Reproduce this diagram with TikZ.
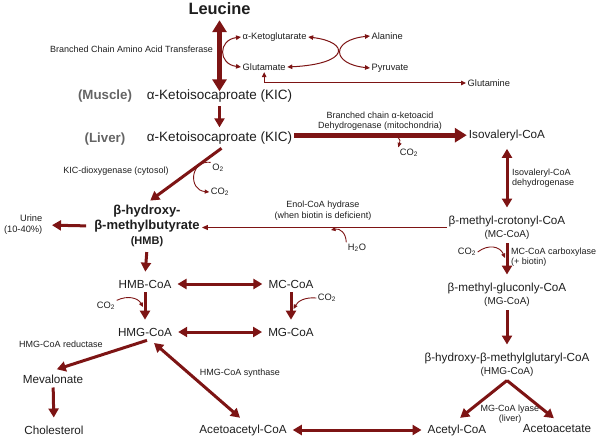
\documentclass[tikz,border=0pt]{standalone}
\usepackage{fontspec}
\setmainfont{Liberation Sans}
\usetikzlibrary{positioning,arrows.meta,calc}
\definecolor{pathred}{RGB}{125,20,20}
\definecolor{inkgray}{RGB}{30,30,30}
\definecolor{sitegray}{RGB}{100,100,100}
\newcommand{\minorline}[1]{{\fontsize{10}{12}\selectfont #1}}
\newcommand{\cotwo}{CO\textsubscript{2}}
\tikzset{
	metab/.style={text=inkgray,font=\fontsize{11.7}{13}\selectfont,inner xsep=2pt,inner ysep=4pt,align=center},
	kic/.style={metab,font=\fontsize{13.5}{15}\selectfont,inner ysep=3.5pt},
	lead/.style={metab,font=\bfseries\fontsize{16.4}{18}\selectfont,inner ysep=2pt},
	hmbnode/.style={metab,font=\bfseries\fontsize{13}{15}\selectfont,inner ysep=2pt},
	site/.style={text=sitegray,font=\bfseries\fontsize{13.3}{15}\selectfont},
	minortext/.style={text=inkgray,font=\fontsize{9.3}{11}\selectfont,inner sep=1.5pt},
	enzyme/.style={text=inkgray,font=\fontsize{9}{10.5}\selectfont,inner sep=1pt,align=center},
	conv/.style={draw=pathred,line width=3pt,-{Triangle[length=9pt,width=10pt]},shorten >=4pt},
	conv both/.style={draw=pathred,line width=3pt,{Triangle[length=9pt,width=10pt]}-{Triangle[length=9pt,width=10pt]},shorten >=4pt,shorten <=4pt},
	major conv/.style={draw=pathred,line width=5pt,-{Triangle[length=12pt,width=14pt]}},
	major both/.style={draw=pathred,line width=5pt,{Triangle[length=12pt,width=14pt]}-{Triangle[length=12pt,width=14pt]}},
	side conv/.style={draw=pathred,line width=1.1pt,-{Triangle[length=6pt,width=5pt]}},
	side both/.style={draw=pathred,line width=1pt,{Triangle[length=5pt,width=4.5pt]}-{Triangle[length=5pt,width=4.5pt]}},
	cofactor/.style={draw=pathred,line width=0.9pt,-{Triangle[length=4.5pt,width=4pt]}}
}

\begin{document}
\begin{tikzpicture}[x=1pt,y=-1pt]
	\useasboundingbox (0,0) rectangle (600,436);
	
	% leucine and transamination
	\node[lead] (leu) at (219.5,9) {Leucine};
	\node[kic] (kicm) at (219.5,96.3) {α-Ketoisocaproate (KIC)};
	\node[site] (musc) at (105,96) {(Muscle)};
	\node[enzyme, anchor=east] (bcat) at (214,49) {Branched Chain Amino Acid Transferase};
	\node[minortext, anchor=west] (akg) at (241,37) {α-Ketoglutarate};
	\node[minortext, anchor=west] (glu) at (241,67) {Glutamate};
	\node[minortext, anchor=west] (ala) at (370,36) {Alanine};
	\node[minortext, anchor=west] (pyr) at (370,68) {Pyruvate};
	\node[minortext, anchor=west] (glm) at (466,83) {Glutamine};
	
	\draw[major both, shorten <=3pt, shorten >=-5pt] (leu) -- (kicm);
	\draw[side both] (akg.west) .. controls (218,40) and (218,64) .. (glu.west);
	\draw[side both] (akg.east) .. controls (350,42) and (350,64) .. (glu.east);
	\draw[side both] (ala.west) .. controls (331,40) and (331,64) .. (pyr.west);
	\draw[side both] (glu.south) |- (glm.west);
	
	% liver
	\node[kic] (kicl) at (219.5,138.3) {α-Ketoisocaproate (KIC)};
	\node[site] (liv) at (105,139) {(Liver)};
	\node[metab] (iva) at (507,135.2) {Isovaleryl-CoA};
	\node[enzyme] (bckd) at (380,121) {Branched chain α-ketoacid\\Dehydrogenase (mitochondria)};
	\node[minortext] (co2a) at (409,153) {\cotwo};
	\coordinate (bkfork) at (392,136);
	
	\draw[conv, shorten >=1pt] (kicm) -- (kicl);
	\draw[major conv] (kicl.east |- iva.west) -- (iva.west);
	\draw[cofactor] (bkfork) .. controls (398,136) and (401,139) .. (co2a.north west);
	
	% HMB
	\node[hmbnode] (hmb) at (147,226) {β-hydroxy-\\β-methylbutyrate\\{\fontsize{11}{13}\selectfont (HMB)}};
	\node[minortext, anchor=east, align=right] (urine) at (44,225) {Urine\\(10-40\%)};
	\node[enzyme] (kdo) at (116,171) {KIC-dioxygenase (cytosol)};
	\node[minortext] (o2) at (218,168) {O\textsubscript{2}};
	\node[minortext] (co2b) at (220,192) {\cotwo};
	
	\draw[conv] ([xshift=2pt]kicl.south) -- (hmb.north);
	\draw[cofactor] (o2.north west) .. controls (190,160) and (188,190) .. (co2b.west);
	\draw[conv, shorten <=6pt, shorten >=8pt] (hmb.west) -- (urine.east);
	
	% right column
	\node[metab] (mcc) at (507,227.5) {β-methyl-crotonyl-CoA\\\minorline{(MC-CoA)}};
	\node[metab] (mgc) at (507,294.5) {β-methyl-gluconly-CoA\\\minorline{(MG-CoA)}};
	\node[metab] (hmgl) at (507,364.5) {β-hydroxy-β-methylglutaryl-CoA\\\minorline{(HMG-CoA)}};
	\node[enzyme, anchor=west, align=left] (ivd) at (511,178) {Isovaleryl-CoA\\dehydrogenase};
	\node[enzyme, anchor=west, align=left] (mccase) at (510,257) {MC-CoA carboxylase\\(+ biotin)};
	\node[minortext] (co2c) at (467,252) {\cotwo};
	\coordinate (mcctip) at (505,258);
	\node[enzyme] (enol) at (323,210.5) {Enol-CoA hydrase\\(when biotin is deficient)};
	\node[minortext] (h2o) at (357,248) {H\textsubscript{2}O};
	\coordinate (h2otip) at (331,230);
	
	\draw[conv both] (iva.south) -- (mcc.north);
	\draw[conv] (mcc.south) -- (mgc.north);
	\draw[conv] (mgc.south) -- (hmgl.north);
	\draw[cofactor] (co2c.east) .. controls (488,244) and (500,246) .. (mcctip);
	\draw[side conv] (mcc.west) -- (mcc.west -| hmb.east);
	\draw[cofactor] (h2o.north west) .. controls (346,233) and (340,228) .. (h2otip);
	
	% CoA esters
	\node[metab] (hmbc) at (145,284) {HMB-CoA};
	\node[metab] (mcc2) at (291,284) {MC-CoA};
	\node[metab] (hmgc) at (145,332) {HMG-CoA};
	\node[metab] (mgc2) at (291,332) {MG-CoA};
	\node[minortext] (co2d) at (106,306) {\cotwo};
	\node[minortext] (co2e) at (327,298) {\cotwo};
	\coordinate (hmbctip) at (143,307);
	\coordinate (mctip) at (293.5,309);
	
	\draw[conv, shorten <=3pt] (hmb.south) -- (hmbc.north);
	\draw[conv both] (hmbc) -- (mcc2);
	\draw[conv] (hmbc) -- (hmgc);
	\draw[conv] (mcc2) -- (mgc2);
	\draw[conv both] (hmgc) -- (mgc2);
	\draw[cofactor] (co2d.north east) .. controls (128,295) and (138,298) .. (hmbctip);
	\draw[cofactor] (co2e.west) .. controls (305,297) and (298,301) .. (mctip);
	
	% bottom
	\node[metab] (meval) at (53,379) {Mevalonate};
	\node[metab] (chol) at (54,430) {Cholesterol};
	\node[metab] (aacoa) at (243,430) {Acetoacetyl-CoA};
	\node[metab] (acoa) at (457,430) {Acetyl-CoA};
	\node[metab] (aca) at (557,429) {Acetoacetate};
	\node[enzyme, anchor=west] (hmgr) at (18,344) {HMG-CoA reductase};
	\node[enzyme] (hmgs) at (240,373) {HMG-CoA synthase};
	\node[enzyme] (lyase) at (510,414) {MG-CoA lyase\\(liver)};
	
	\draw[conv] ([xshift=2pt]hmgc.south) -- (meval.north);
	\draw[conv] (meval) -- (chol);
	\draw[conv both] ([xshift=6pt]hmgc.south) -- (aacoa.north);
	\draw[conv both] (aacoa) -- (acoa);
	\draw[conv] (hmgl.south) -- (acoa.north);
	\draw[conv] (hmgl.south) -- (aca.north);
	
\end{tikzpicture}
\end{document}
